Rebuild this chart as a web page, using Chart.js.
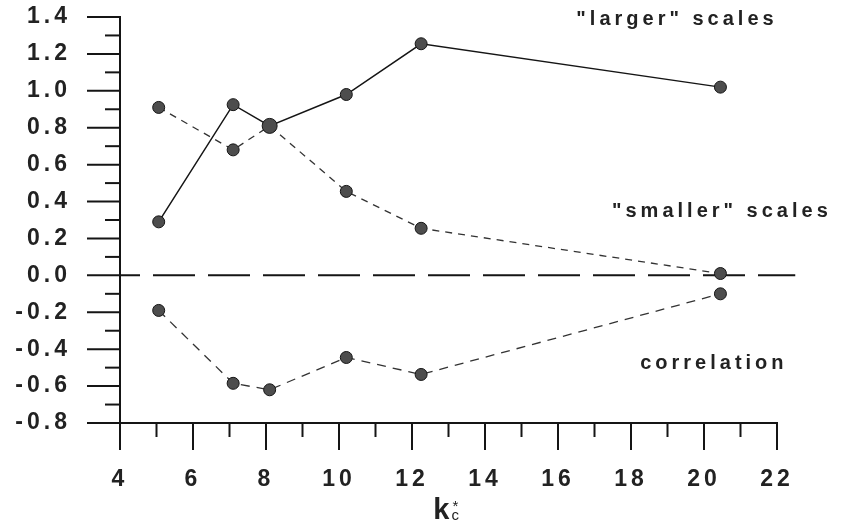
<!DOCTYPE html>
<html>
<head>
<meta charset="utf-8">
<script src="https://cdn.jsdelivr.net/npm/chart.js@4.4.1/dist/chart.umd.min.js"></script>
<style>
  html, body { margin: 0; padding: 0; background: #fff; }
</style>
</head>
<body>
<canvas id="kcChart" width="842" height="528"></canvas>
<script>
// k_c* values (points sit a bit right of the integer ticks)
const kValues = [5.06, 7.1, 8.1, 10.2, 12.25, 20.45]
const largerScales = [0.29, 0.925, 0.81, 0.98, 1.255, 1.02]
const smallerScales = [0.91, 0.68, 0.81, 0.455, 0.255, 0.01]
const correlation = [-0.19, -0.585, -0.62, -0.445, -0.537, -0.10]

const zeroLineX = [4, 22.5]

const labelTexts = ['"larger" scales', '"smaller" scales', 'correlation']
const labelX = [19.26, 20.49, 20.27]
const labelY = [1.385, 0.347, -0.48]

const ink = '#151515'
const dotFill = '#4d4d4d'
const tickFont = { family: 'Liberation Sans', size: 23, weight: 'bold' }

const toPoints = (vals) => vals.map((v, i) => ({ x: kValues[i], y: v }))

const spacing = {
    id: 'spacing',
    beforeDraw(chart) {
        chart.ctx.letterSpacing = '4px'
    }
}

const tickMarks = {
    id: 'tickMarks',
    afterDraw(chart) {
        const { ctx, scales: { x, y } } = chart
        ctx.save()
        ctx.strokeStyle = ink
        ctx.lineWidth = 2
        y.ticks.forEach(t => {
            const py = y.getPixelForValue(t.value)
            const major = Math.abs(Math.round(t.value * 10)) % 2 === 0
            ctx.beginPath()
            ctx.moveTo(y.right - (major ? 33 : 15), py)
            ctx.lineTo(y.right, py)
            ctx.stroke()
        })
        x.ticks.forEach(t => {
            const px = x.getPixelForValue(t.value)
            const major = Math.round(t.value) % 2 === 0
            ctx.beginPath()
            ctx.moveTo(px, x.top)
            ctx.lineTo(px, x.top + (major ? 27 : 14))
            ctx.stroke()
        })
        ctx.restore()
    }
}

const seriesLabels = {
    id: 'seriesLabels',
    afterDraw(chart) {
        const { ctx, scales: { x, y } } = chart
        ctx.save()
        ctx.fillStyle = '#222'
        ctx.font = 'bold 20px "Liberation Sans"'
        ctx.textAlign = 'center'
        ctx.textBaseline = 'middle'
        labelTexts.forEach((txt, i) => {
            ctx.fillText(txt, x.getPixelForValue(labelX[i]), y.getPixelForValue(labelY[i]))
        })
        ctx.restore()
    }
}

// x title k_c^* drawn by hand, chart.js titles can't stack sub/sup
const axisTitle = {
    id: 'axisTitle',
    afterDraw(chart) {
        const { ctx, chartArea } = chart
        const cx = (chartArea.left + chartArea.right) / 2
        ctx.save()
        ctx.letterSpacing = '0px'
        ctx.fillStyle = '#222'
        ctx.textBaseline = 'alphabetic'
        ctx.font = 'bold 29px "Liberation Sans"'
        ctx.textAlign = 'right'
        ctx.fillText('k', cx + 1, 519)
        ctx.textAlign = 'left'
        ctx.font = '15px "Liberation Sans"'
        ctx.fillText('*', cx + 4, 511)
        ctx.fillText('c', cx + 3, 520)
        ctx.restore()
    }
}

const data = {
    datasets: [
        {
            data: toPoints(largerScales),
            borderColor: ink,
            borderWidth: 1.5,
            pointRadius: [6, 6, 7.5, 6, 6, 6],
            pointBackgroundColor: dotFill,
            pointBorderColor: ink,
            pointBorderWidth: 1
        },
        {
            data: toPoints(smallerScales),
            borderColor: '#333',
            borderWidth: 1.3,
            borderDash: [7, 6],
            pointRadius: 6,
            pointBackgroundColor: dotFill,
            pointBorderColor: ink,
            pointBorderWidth: 1
        },
        {
            data: toPoints(correlation),
            borderColor: '#333',
            borderWidth: 1.3,
            borderDash: [9, 7],
            pointRadius: 6,
            pointBackgroundColor: dotFill,
            pointBorderColor: ink,
            pointBorderWidth: 1
        },
        {
            data: zeroLineX.map(v => ({ x: v, y: 0 })),
            borderColor: ink,
            borderWidth: 2,
            borderDash: [42, 13],
            borderDashOffset: 22,
            pointRadius: 0,
            clip: false
        }
    ]
}

const options = {
    responsive: false,
    animation: false,
    layout: { padding: { top: 17, right: 65, left: 0, bottom: 0 } },
    plugins: {
        legend: { display: false },
        tooltip: { enabled: false }
    },
    scales: {
        x: {
            type: 'linear',
            min: 4,
            max: 22,
            grid: { display: false, drawTicks: false },
            border: { display: true, color: ink, width: 2 },
            ticks: {
                stepSize: 1,
                autoSkip: false,
                maxRotation: 0,
                padding: 43,
                color: '#222',
                font: tickFont,
                callback: v => (Math.round(v) % 2 === 0 ? String(v) : '')
            },
            afterFit: s => { s.height = 105 }
        },
        y: {
            min: -0.8,
            max: 1.4,
            grid: { display: false, drawTicks: false },
            border: { display: true, color: ink, width: 2 },
            ticks: {
                stepSize: 0.1,
                autoSkip: false,
                padding: 49,
                color: '#222',
                font: tickFont,
                callback: v => (Math.abs(Math.round(v * 10)) % 2 === 0 ? v.toFixed(1) : '')
            },
            afterFit: s => {
                s.width = 120
                s.paddingTop = 0
                s.paddingBottom = 0
            }
        }
    }
}

new Chart('kcChart', { type: 'line', data, options, plugins: [spacing, tickMarks, seriesLabels, axisTitle] })
</script>
</body>
</html>
